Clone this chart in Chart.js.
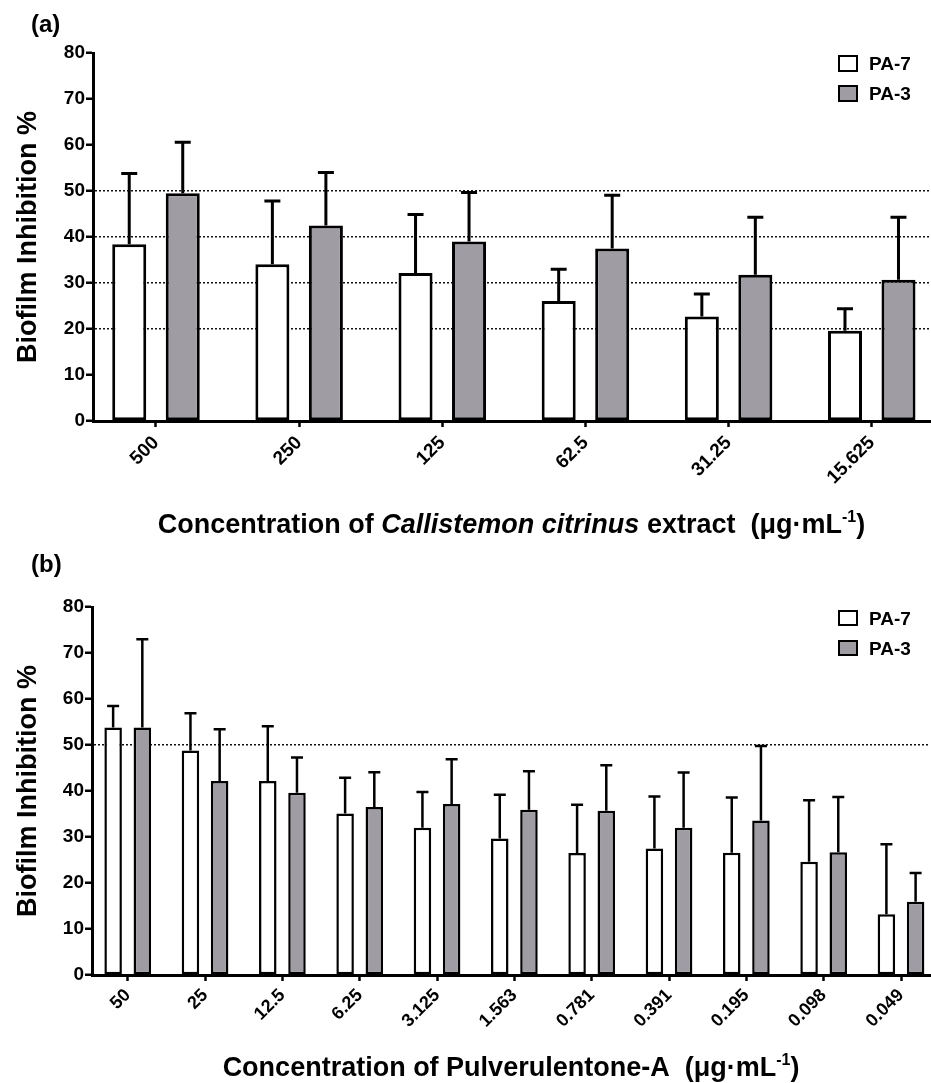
<!DOCTYPE html>
<html>
<head>
<meta charset="utf-8">
<script src="https://cdn.jsdelivr.net/npm/chart.js@4.4.1/dist/chart.umd.min.js"></script>
<style>
  html, body { margin:0; padding:0; background:#fff; }
  body { width:931px; height:1083px; position:relative; overflow:hidden;
         font-family:'Liberation Sans', Arial, Helvetica, sans-serif; color:#000; }
  canvas { position:absolute; left:0; }
  .txt { position:absolute; font-weight:bold; line-height:1; white-space:nowrap; }
  .box { position:absolute; box-sizing:border-box; border:2.5px solid #000; }
</style>
</head>
<body>
<canvas id="chartA" width="931" height="545" style="top:0"></canvas>
<canvas id="chartB" width="931" height="538" style="top:545px"></canvas>

<div class="txt" style="left:31px; top:12px; font-size:24px;">(a)</div>
<div class="txt" style="left:31px; top:552px; font-size:24px;">(b)</div>

<div class="txt" style="left:93px; width:837px; text-align:center; top:511px; font-size:27px;">Concentration of <i>Callistemon citrinus</i> extract&nbsp; (μg·mL<sup style="font-size:16px; line-height:0; vertical-align:11px;">-1</sup>)</div>
<div class="txt" style="left:92px; width:838px; text-align:center; top:1054px; font-size:27px;">Concentration of Pulverulentone-A&nbsp; (μg·mL<sup style="font-size:16px; line-height:0; vertical-align:11px;">-1</sup>)</div>

<div class="box" style="left:838px; top:55px; width:20px; height:17px; background:#fff;"></div>
<div class="txt" style="left:869px; top:54px; font-size:19px;">PA-7</div>
<div class="box" style="left:838px; top:85px; width:20px; height:17px; background:#a09ca3;"></div>
<div class="txt" style="left:869px; top:84px; font-size:19px;">PA-3</div>

<div class="box" style="left:838px; top:610px; width:20px; height:16px; background:#fff;"></div>
<div class="txt" style="left:869px; top:609px; font-size:19px;">PA-7</div>
<div class="box" style="left:838px; top:640px; width:20px; height:16px; background:#a09ca3;"></div>
<div class="txt" style="left:869px; top:639px; font-size:19px;">PA-3</div>

<script>
// ---------- data: panel (a) ----------
const catsA   = ['500', '250', '125', '62.5', '31.25', '15.625'];
const pa7A    = [38.4, 34.1, 32.2, 26.1, 22.7, 19.6];
const pa7ErrA = [15.4, 13.7, 12.7, 6.9, 4.9, 4.8];
const pa3A    = [49.5, 42.5, 39.0, 37.5, 31.8, 30.7];
const pa3ErrA = [11.1, 11.5, 10.7, 11.6, 12.5, 13.6];

// ---------- data: panel (b) ----------
const catsB   = ['50', '25', '12.5', '6.25', '3.125', '1.563', '0.781', '0.391', '0.195', '0.098', '0.049'];
const pa7B    = [53.8, 48.8, 42.2, 35.1, 32.0, 29.7, 26.5, 27.5, 26.6, 24.6, 13.2];
const pa7ErrB = [4.7, 8.1, 11.9, 7.8, 7.8, 9.5, 10.5, 11.3, 12.0, 13.4, 15.2];
const pa3B    = [53.8, 42.2, 39.6, 36.5, 37.2, 35.9, 35.7, 32.0, 33.6, 26.7, 15.9];
const pa3ErrB = [19.2, 11.2, 7.7, 7.6, 9.7, 8.4, 9.9, 12.0, 16.2, 12.0, 6.3];

const yTicks = [0, 10, 20, 30, 40, 50, 60, 70, 80];
const seriesNames = ['PA-7', 'PA-3'];

const FONT = "'Liberation Sans', Arial, Helvetica, sans-serif";
Chart.defaults.font.family = FONT;
Chart.defaults.color = '#000';

const errorBarPlugin = {
  id: 'errorBars',
  afterDatasetsDraw(chart, args, opts) {
    const ctx = chart.ctx;
    const y = chart.scales.y;
    chart.data.datasets.forEach((ds, i) => {
      const meta = chart.getDatasetMeta(i);
      meta.data.forEach((bar, j) => {
        const v = ds.data[j], e = ds.errors[j];
        const yTop = y.getPixelForValue(v + e);
        ctx.save();
        ctx.strokeStyle = '#000';
        ctx.lineWidth = opts.width;
        ctx.lineCap = 'butt';
        ctx.beginPath();
        ctx.moveTo(bar.x, bar.y);
        ctx.lineTo(bar.x, yTop);
        ctx.moveTo(bar.x - opts.cap, yTop);
        ctx.lineTo(bar.x + opts.cap, yTop);
        ctx.stroke();
        ctx.restore();
      });
    });
  }
};

function makeChart(id, p) {
  return new Chart(document.getElementById(id), {
    type: 'bar',
    data: {
      labels: p.cats,
      datasets: [
        { label: seriesNames[0], data: p.pa7, errors: p.pa7Err, backgroundColor: '#ffffff',
          borderColor: '#000', borderWidth: p.bw, borderSkipped: false,
          categoryPercentage: p.cp, barPercentage: p.bp },
        { label: seriesNames[1], data: p.pa3, errors: p.pa3Err, backgroundColor: '#a09ca3',
          borderColor: '#000', borderWidth: p.bw, borderSkipped: false,
          categoryPercentage: p.cp, barPercentage: p.bp }
      ]
    },
    options: {
      responsive: false,
      animation: false,
      devicePixelRatio: 1,
      layout: { padding: { top: p.top, right: 1, left: 0, bottom: 0 } },
      plugins: {
        legend: { display: false },
        tooltip: { enabled: false },
        errorBars: { width: p.ew, cap: p.cap }
      },
      scales: {
        x: {
          type: 'category',
          offset: true,
          z: 1,
          afterBuildTicks: s => { s._startValue = p.xStart; s._valueRange = p.xRange; },
          afterFit: s => { s.height = p.xh; },
          grid: { display: true, drawOnChartArea: false, drawTicks: true, offset: false,
                  tickLength: 6, tickWidth: 2.5, tickColor: '#000' },
          border: { display: true, color: '#000', width: 3 },
          ticks: { minRotation: 45, maxRotation: 45, autoSkip: false, padding: p.xpad,
                   color: '#000', font: { size: p.xfs, weight: 'bold', lineHeight: 1 } }
        },
        y: {
          min: 0, max: 80,
          afterFit: s => { s.width = p.yw; },
          afterBuildTicks: s => { s.ticks = yTicks.map(v => ({ value: v })); },
          ticks: { stepSize: 10, padding: 1, color: '#000', font: { size: 19, weight: 'bold' } },
          grid: {
            color: c => (c.tick && p.dotted.includes(c.tick.value)) ? '#111' : 'rgba(0,0,0,0)',
            lineWidth: 1.5, drawTicks: true, tickLength: 7, tickWidth: 2.5, tickColor: '#000'
          },
          border: { display: true, color: '#000', width: 3, dash: [2, 2] },
          title: { display: true, text: 'Biofilm Inhibition %', color: '#000',
                   font: { size: 27, weight: 'bold' }, padding: { top: 12, bottom: 0 } }
        }
      }
    },
    plugins: [errorBarPlugin]
  });
}

makeChart('chartA', {
  cats: catsA, pa7: pa7A, pa7Err: pa7ErrA, pa3: pa3A, pa3Err: pa3ErrA,
  top: 53, xh: 124, yw: 93, xStart: -0.44, xRange: 5.847, xpad: 6,
  cp: 0.7475, bp: 0.636, bw: 3, ew: 3, cap: 8, xfs: 19, dotted: [20, 30, 40, 50]
});
makeChart('chartB', {
  cats: catsB, pa7: pa7B, pa7Err: pa7ErrB, pa3: pa3B, pa3Err: pa3ErrB,
  top: 62, xh: 108, yw: 92, xStart: -0.462, xRange: 10.837, xpad: 5,
  cp: 0.755, bp: 0.6, bw: 2.5, ew: 2.5, cap: 6, xfs: 18, dotted: [50]
});
</script>
</body>
</html>
